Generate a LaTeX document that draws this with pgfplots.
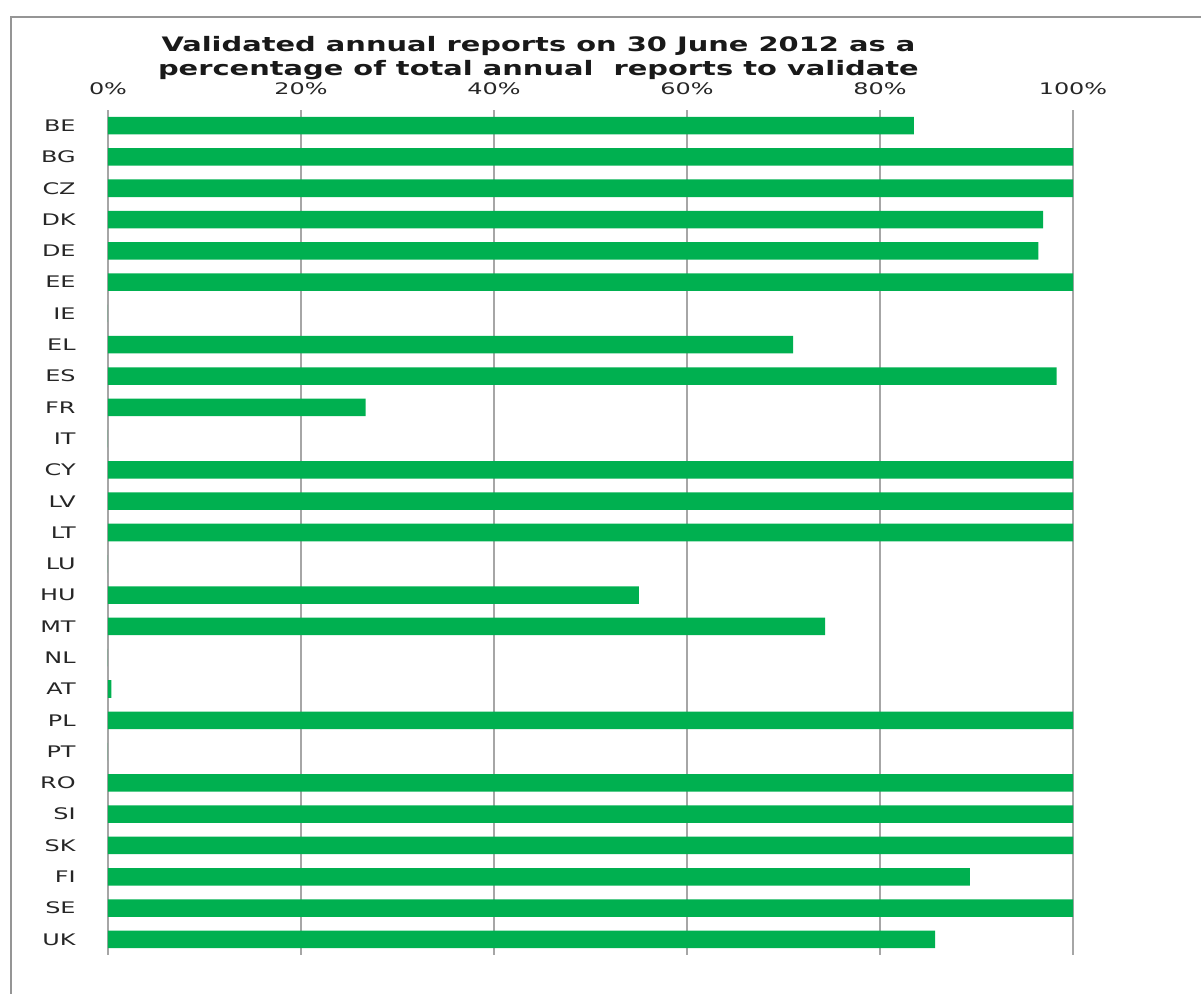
\documentclass[border=0pt]{standalone}
\usepackage{pgfplots}
\pgfplotsset{compat=1.18}
\usepackage{fontspec}
\setmainfont{DejaVu Sans}[FakeStretch=1.5]
\newfontfamily\titlefont{DejaVu Sans}[FakeStretch=1.45]
\definecolor{barGreen}{HTML}{00B050}
\definecolor{gridGray}{HTML}{A6A6A6}
\definecolor{frameGray}{HTML}{959595}
\begin{document}
\begin{tikzpicture}
\useasboundingbox (-54bp,-19.5bp) rectangle (546.5bp,477.5bp);
% outer chart frame
\draw[frameGray, line width=1.3bp] (-48.5bp,-19.5bp) -- (-48.5bp,469bp) -- (547bp,469bp);
\begin{axis}[
  at={(0,0)}, anchor=south west,
  scale only axis,
  width=482.5bp, height=422.5bp,
  xbar, bar width=0.56,
  xmin=0, xmax=1,
  ymin=-0.5, ymax=26.5,
  y dir=reverse,
  xtick={0,0.2,0.4,0.6,0.8,1},
  xticklabels={0\%,20\%,40\%,60\%,80\%,100\%},
  xticklabel pos=upper,
  ytick={0,...,26},
  yticklabels={BE,BG,CZ,DK,DE,EE,IE,EL,ES,FR,IT,CY,LV,LT,LU,HU,MT,NL,AT,PL,PT,RO,SI,SK,FI,SE,UK},
  major tick length=0pt,
  axis line style={draw=none},
  xmajorgrids,
  major grid style={gridGray, line width=1bp},
  tick label style={font=\fontsize{8}{9.6}\selectfont, text=black!85},
  xticklabel style={anchor=base, yshift=8bp, inner sep=0pt},
  yticklabel style={anchor=east, inner sep=0pt, xshift=-16bp},
  clip=false,
]
\addplot[fill=barGreen, draw=none] table[x=v, y=i] {
i v
0 0.835
1 1.000
2 1.000
3 0.969
4 0.964
5 1.000
6 0.000
7 0.710
8 0.983
9 0.267
10 0.000
11 1.000
12 1.000
13 1.000
14 0.000
15 0.550
16 0.743
17 0.000
18 0.0035
19 1.000
20 0.000
21 1.000
22 1.000
23 1.000
24 0.893
25 1.000
26 0.857
};
\node[font=\titlefont\bfseries\fontsize{10}{12}\selectfont, align=center, text=black!90]
  at (axis description cs:0.446,1.0615) {Validated annual reports on 30 June 2012 as a\\percentage of total annual\ \ reports to validate};
\end{axis}
\end{tikzpicture}
\end{document}
